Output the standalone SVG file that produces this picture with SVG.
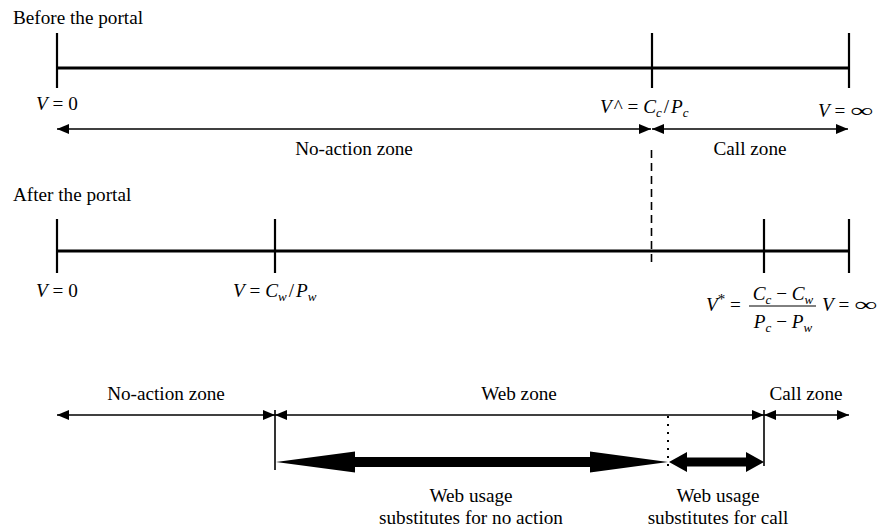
<svg xmlns="http://www.w3.org/2000/svg" width="886" height="532" viewBox="0 0 886 532">
  <defs>
    <style>
      text { font-family: "Liberation Serif", "Times New Roman", serif; font-size: 19.2px; fill: #000; }
      .i { font-style: italic; }
      .sub { font-style: italic; font-size: 13px; }
      .mid { text-anchor: middle; }
      .axis { stroke: #000; stroke-width: 3; fill: none; }
      .tick { stroke: #000; stroke-width: 2.2; fill: none; }
      .thin { stroke: #000; stroke-width: 1.3; fill: none; marker-start: url(#ah); marker-end: url(#ah); }
      .guide { stroke: #000; stroke-width: 1.6; fill: none; }
    </style>
    <marker id="ah" viewBox="0 0 12 10" refX="12" refY="5" markerWidth="12" markerHeight="10" markerUnits="userSpaceOnUse" orient="auto-start-reverse">
      <path d="M0,0 L12,5 L0,10 z" fill="#000"/>
    </marker>
  </defs>
  <rect width="886" height="532" fill="#fff"/>

  <!-- Before the portal -->
  <g id="before">
    <text x="13" y="24">Before the portal</text>
    <line class="axis" x1="57" y1="68" x2="849" y2="68"/>
    <line class="tick" x1="57" y1="33" x2="57" y2="88"/>
    <line class="tick" x1="652" y1="33" x2="652" y2="88"/>
    <line class="tick" x1="849" y1="33" x2="849" y2="88"/>
    <text x="36" y="110"><tspan class="i">V</tspan> = 0</text>
    <text x="600" y="113"><tspan class="i">V</tspan><tspan dx="2">^</tspan> = <tspan class="i">C</tspan><tspan class="sub" dy="4">c</tspan><tspan dx="2" dy="-4">/</tspan><tspan class="i" dx="2">P</tspan><tspan class="sub" dy="4">c</tspan></text>
    <text x="818" y="117"><tspan class="i">V</tspan> =</text>
    <text transform="translate(850,117) scale(1.7,1)">∞</text>
    <text class="mid" x="354" y="155">No-action zone</text>
    <text class="mid" x="750" y="155">Call zone</text>
  </g>

  <!-- After the portal -->
  <g id="after">
    <text x="13" y="201">After the portal</text>
    <line class="axis" x1="57" y1="251" x2="849" y2="251"/>
    <line class="tick" x1="57" y1="219" x2="57" y2="273"/>
    <line class="tick" x1="275" y1="219" x2="275" y2="273"/>
    <line class="tick" x1="764" y1="219" x2="764" y2="273"/>
    <line class="tick" x1="849" y1="219" x2="849" y2="273"/>
    <text x="36" y="297"><tspan class="i">V</tspan> = 0</text>
    <text x="233" y="297"><tspan class="i">V</tspan> = <tspan class="i">C</tspan><tspan class="sub" dy="4">w</tspan><tspan dx="2" dy="-4">/</tspan><tspan class="i" dx="2">P</tspan><tspan class="sub" dy="4">w</tspan></text>
    <text x="706" y="311"><tspan class="i">V</tspan><tspan font-size="15" dy="-7">*</tspan><tspan dy="7"> =</tspan></text>
    <text class="mid" x="783" y="300"><tspan class="i">C</tspan><tspan class="sub" dy="4">c</tspan><tspan dy="-4"> − </tspan><tspan class="i">C</tspan><tspan class="sub" dy="4">w</tspan></text>
    <line x1="749" y1="306" x2="816" y2="306" stroke="#000" stroke-width="1"/>
    <text class="mid" x="783" y="328"><tspan class="i">P</tspan><tspan class="sub" dy="4">c</tspan><tspan dy="-4"> − </tspan><tspan class="i">P</tspan><tspan class="sub" dy="4">w</tspan></text>
    <text x="822" y="311"><tspan class="i">V</tspan> =</text>
    <text transform="translate(854,311) scale(1.7,1)">∞</text>
  </g>

  <!-- Zones after the portal -->
  <g id="zones">
    <text class="mid" x="166" y="400">No-action zone</text>
    <text class="mid" x="519" y="400">Web zone</text>
    <text class="mid" x="806" y="400">Call zone</text>
    <text class="mid" x="471" y="502">Web usage</text>
    <text class="mid" x="471" y="524">substitutes for no action</text>
    <text class="mid" x="718" y="502">Web usage</text>
    <text class="mid" x="718" y="524">substitutes for call</text>
  </g>

  <!-- Connectors -->
  <g id="connectors">
    <line class="thin" x1="57" y1="129" x2="651" y2="129"/>
    <line class="thin" x1="652" y1="129" x2="848" y2="129"/>
    <line class="guide" x1="651.5" y1="150" x2="651.5" y2="265" stroke-dasharray="8 5"/>
    <line class="thin" x1="57" y1="415" x2="275" y2="415"/>
    <line class="thin" x1="275" y1="415" x2="764" y2="415"/>
    <line class="thin" x1="764" y1="415" x2="849" y2="415"/>
    <line class="guide" x1="275" y1="410" x2="275" y2="470"/>
    <line class="guide" x1="764" y1="410" x2="764" y2="466"/>
    <line x1="668" y1="416" x2="668" y2="472" stroke="#000" stroke-width="2" stroke-dasharray="2 6"/>
    <path d="M276,462 L355,451.5 L355,457 L590,457 L590,451.5 L668,462 L590,472.5 L590,467 L355,467 L355,472.5 Z" fill="#000"/>
    <path d="M669,462 L687,452 L687,457.5 L746,457.5 L746,452 L764,462 L746,472 L746,466.5 L687,466.5 L687,472 Z" fill="#000"/>
  </g>
</svg>
